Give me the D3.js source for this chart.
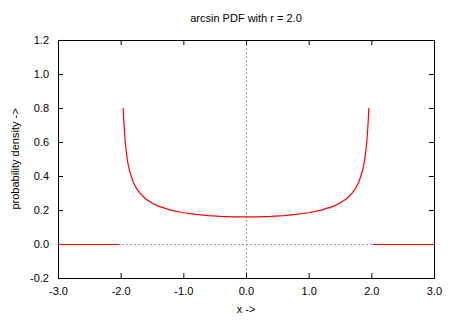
<!DOCTYPE html>
<html>
<head>
<meta charset="utf-8">
<script src="https://cdn.jsdelivr.net/npm/d3@7"></script>
<style>
  body { margin: 0; background: #fff; }
  svg text { font-family: "Liberation Sans", Arial, sans-serif; font-size: 11px; fill: #000; }
</style>
</head>
<body>
<div id="chart"></div>
<script>
// curve (x, density)
const curveX = [-1.96, -1.95, -1.93, -1.9, -1.88, -1.85, -1.8, -1.75, -1.7, -1.6, -1.5, -1.4, -1.2, -1.0, -0.8, -0.6, -0.4, -0.2, 0.0,
                0.2, 0.4, 0.6, 0.8, 1.0, 1.2, 1.4, 1.5, 1.6, 1.7, 1.75, 1.8, 1.85, 1.88, 1.9, 1.93, 1.95, 1.96];
const curveY = [0.80, 0.72, 0.61, 0.51, 0.467, 0.42, 0.365, 0.329, 0.302, 0.265, 0.241, 0.223, 0.199, 0.184, 0.174, 0.167, 0.162, 0.160, 0.159,
                0.160, 0.162, 0.167, 0.174, 0.184, 0.199, 0.223, 0.241, 0.265, 0.302, 0.329, 0.365, 0.42, 0.467, 0.51, 0.61, 0.72, 0.80];
// flat zero parts outside the support
const leftTailX = [-3.0, -2.03];
const rightTailX = [2.03, 3.0];
const tailY = [0.0, 0.0];

const xTicks = [-3, -2, -1, 0, 1, 2, 3];
const yTicks = [-0.2, 0, 0.2, 0.4, 0.6, 0.8, 1.0, 1.2];

const W = 450, H = 320;
const margin = { top: 40, right: 16, bottom: 42, left: 58 };
const width = W - margin.left - margin.right,
      height = H - margin.top - margin.bottom;

const svg = d3.select("#chart").append("svg")
  .attr("width", W)
  .attr("height", H);

const g = svg.append("g")
  .attr("transform", `translate(${margin.left},${margin.top})`);

const x = d3.scaleLinear().domain([-3, 3]).range([0, width]);
const y = d3.scaleLinear().domain([-0.2, 1.2]).range([height, 0]);
const y0 = Math.round(y(0)) + 0.5;

// dotted zero axes
g.append("line")
  .attr("x1", 0).attr("x2", width)
  .attr("y1", y0).attr("y2", y0)
  .attr("stroke", "#a0a0a0").attr("stroke-dasharray", "2,2");
g.append("line")
  .attr("y1", 0).attr("y2", height)
  .attr("x1", Math.round(x(0)) + 0.5).attr("x2", Math.round(x(0)) + 0.5)
  .attr("stroke", "#a0a0a0").attr("stroke-dasharray", "2,2");

// axes with inward ticks on all four sides (plain hyphen for negatives, like gnuplot)
const fmt = d => d3.format(".1f")(d).replace("\u2212", "-");
const axBottom = g.append("g").attr("transform", `translate(0,${height})`)
  .call(d3.axisBottom(x).tickValues(xTicks).tickFormat(fmt).tickSize(-5).tickPadding(9));
const axTop = g.append("g")
  .call(d3.axisTop(x).tickValues(xTicks).tickFormat("").tickSize(-5));
const axLeft = g.append("g")
  .call(d3.axisLeft(y).tickValues(yTicks).tickFormat(fmt).tickSize(-5).tickPadding(9));
const axRight = g.append("g").attr("transform", `translate(${width},0)`)
  .call(d3.axisRight(y).tickValues(yTicks).tickFormat("").tickSize(-5));

[axBottom, axTop, axLeft, axRight].forEach(a => {
  a.select(".domain").remove();
  a.selectAll("line").attr("stroke", "#000");
  a.selectAll("text").style("font-size", "11px").style("font-family", "Liberation Sans, Arial, sans-serif");
});

// frame
g.append("rect")
  .attr("x", 0.5).attr("y", 0.5)
  .attr("width", width).attr("height", height)
  .attr("fill", "none").attr("stroke", "#000");

// the red lines
const line = d3.line().x(d => x(d[0])).y(d => y(d[1]));
const tailLine = d3.line().x(d => x(d[0])).y(() => y0);
g.selectAll(".tail")
  .data([d3.zip(leftTailX, tailY), d3.zip(rightTailX, tailY)])
  .enter().append("path")
  .attr("class", "tail")
  .attr("d", tailLine)
  .attr("fill", "none")
  .attr("stroke", "#ff0000")
  .attr("stroke-width", 1.2)
  .attr("shape-rendering", "crispEdges");
g.append("path")
  .datum(d3.zip(curveX, curveY))
  .attr("d", line)
  .attr("fill", "none")
  .attr("stroke", "#ff0000")
  .attr("stroke-width", 1.2);

// titles
svg.append("text")
  .attr("x", margin.left + width / 2).attr("y", 22)
  .attr("text-anchor", "middle")
  .text("arcsin PDF with r = 2.0");
svg.append("text")
  .attr("x", margin.left + width / 2).attr("y", 313)
  .attr("text-anchor", "middle")
  .text("x ->");
svg.append("text")
  .attr("transform", `translate(19,${margin.top + height / 2}) rotate(-90)`)
  .attr("text-anchor", "middle")
  .text("probability density ->");
</script>
</body>
</html>
